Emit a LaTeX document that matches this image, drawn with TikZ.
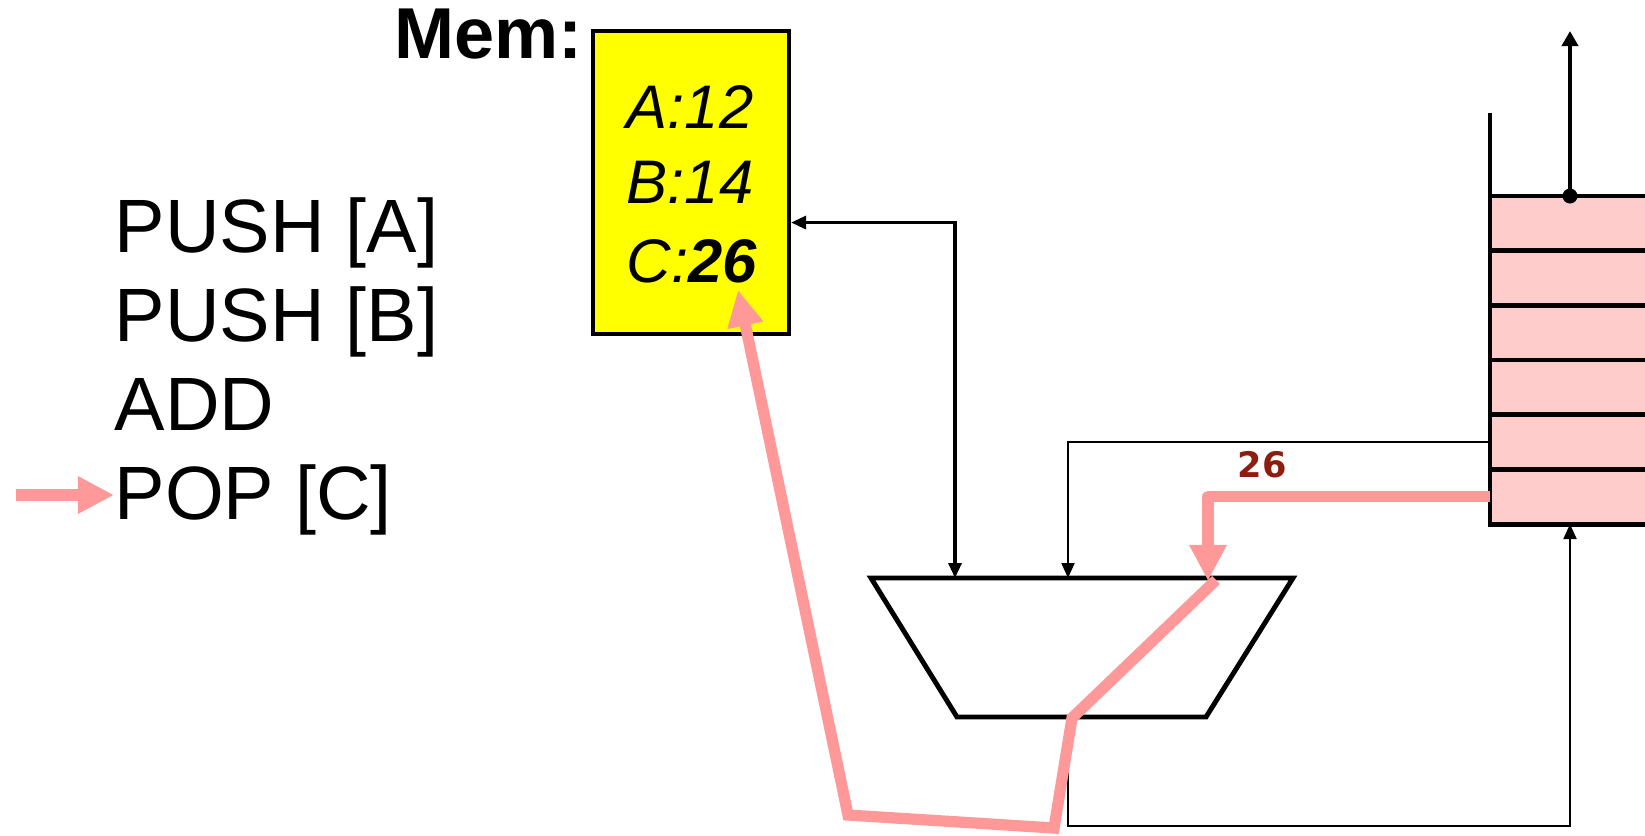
\documentclass[tikz,border=0pt]{standalone}
\usepackage{fontspec}
\setmainfont{Liberation Sans}
\newfontfamily\valfont{DejaVu Sans}
\usetikzlibrary{arrows.meta,positioning}

\definecolor{memyellow}{RGB}{255,255,0}
\definecolor{stackpink}{RGB}{255,204,204}
\definecolor{flowpink}{RGB}{255,153,153}
\definecolor{valred}{RGB}{140,30,15}

\begin{document}
\begin{tikzpicture}[x=0.01cm, y=-0.01cm, >={Triangle[length=1.5mm,width=1.3mm]},
  wire/.style={line width=0.6pt},
  bus/.style={line width=0.9pt},
  popflow/.style={draw=flowpink, line width=3.2pt},
  cell/.style={draw, fill=stackpink, line width=1.4pt, minimum width=1.8cm, minimum height=5.47mm, inner sep=0pt, outer sep=0pt},
  instr/.style={anchor=base west, inner sep=0pt, font=\fontsize{21.5}{26}\selectfont},
  memval/.style={anchor=base west, inner sep=0pt, font=\fontsize{17.5}{20}\selectfont\itshape}]
\clip (0,0) rectangle (1645,835);

% program
\node[instr] (pushA) at (114,252) {PUSH [A]};
\node[instr] (pushB) at (114,341) {PUSH [B]};
\node[instr] (add) at (114,430) {ADD};
\node[instr] (pop) at (114,519) {POP [C]};
\coordinate (cursor) at (16,495);

% memory
\node[draw, fill=memyellow, line width=1.15pt, minimum width=1.96cm, minimum height=3.03cm, inner sep=0pt] (mem) at (691,182.5) {};
\node[anchor=base east, inner sep=0pt, font=\fontsize{20.5}{24}\selectfont\bfseries] (memlbl) at (583,58) {Mem:};
\node[memval] (memA) at (626,128) {A:12};
\node[memval] (memB) at (626,203) {B:14};
\node[memval] (memC) at (626,282) {C:\textbf{26}};
\coordinate (ctip) at (738,290);

% stack
\foreach \i in {0,...,5}
  \node[cell] (s\i) at (1580,{196+54.67*(\i+0.5)}) {};
\draw[line width=1.4pt] (s0.north west) -- ++(0,-83);
\coordinate (tos) at (1570,196);
\coordinate (top) at (1570,31);

% alu
\coordinate (aluA) at (955,578);
\coordinate (aluB) at (1068,578);
\coordinate (aluC) at (1208,581);
\coordinate (aluOut) at (1068,717);
\coordinate (res) at (1072,718);
\draw[line width=1.4pt] (871,578) -- (1293,578) -- (1206,717) -- (957,717) -- cycle;

% data paths
\draw[bus, <->] ([yshift=-4mm]mem.east) -| (aluA);
\draw[wire, ->] (s4.west) -| (aluB);
\draw[wire, ->] (aluOut) -- ++(0,109) -| (tos |- s5.south);
\draw[line width=1.4pt, -{Triangle[length=1.5mm,width=1.6mm]}] (tos) -- (top);
\fill (tos) circle (0.75mm);

% the popped value
\node[font=\valfont\bfseries\fontsize{10}{12}\selectfont, text=valred] (val) at (1262,465) {26};
\draw[popflow, line join=round, -{Triangle[length=3.6mm,width=3.5mm]}] (s5.west) -| (aluC);
\draw[popflow, -{Triangle[length=3.6mm,width=3.4mm]}] (1216,580) -- (res) -- (1054,828) -- (848,815) -- (ctip);
\draw[popflow, line width=3.4pt, -{Triangle[length=3.6mm,width=3.5mm]}] (cursor) -- (cursor -| pop.west);
\end{tikzpicture}
\end{document}
